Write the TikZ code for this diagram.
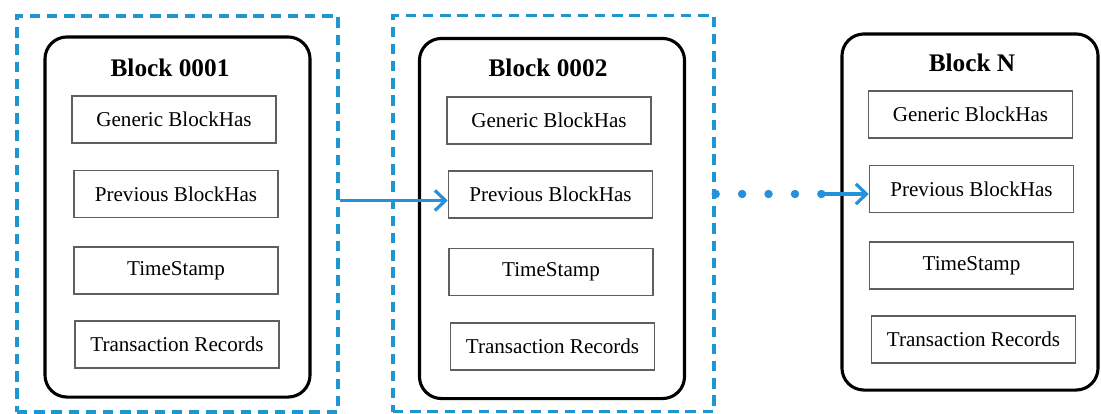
\documentclass[tikz,border=0pt]{standalone}
\usepackage{fontspec}
\setmainfont{Liberation Serif}
\usetikzlibrary{positioning,arrows.meta}
\usepackage{xcolor}
\definecolor{ChainBlue}{RGB}{30,150,210}
\definecolor{ArrowBlue}{RGB}{35,145,220}
\definecolor{FieldGray}{RGB}{95,95,95}

\begin{document}
\begin{tikzpicture}[x=0.025cm,y=-0.025cm,
wrap/.style={rectangle,draw=ChainBlue,line width=2.4pt,dash pattern=on 0.26cm off 0.17cm,
minimum width=8.025cm,minimum height=9.9cm},
block/.style={rectangle,rounded corners=0.55cm,draw=black,line width=2.2pt,fill=white,
minimum width=6.625cm,minimum height=9cm},
title/.style={font=\fontsize{18}{20}\selectfont\bfseries},
field/.style={rectangle,draw=FieldGray,line width=1.1pt,fill=white,
minimum width=5.1cm,minimum height=1.175cm,font=\fontsize{15}{17}\selectfont},
arrow/.style={-{Straight Barb[length=2.6mm,width=5mm,line width=2.3pt]},line width=2.4pt,draw=ArrowBlue},
dots/.style={draw=ArrowBlue,line width=6pt,line cap=round,dash pattern=on 0pt off 0.66cm}
]
\useasboundingbox (0,0) rectangle (1101,414);
\node[wrap] (wrap1) at (177.5,214) {};
\node[wrap] (wrap2) at (553.5,213.5) {};
% first block
\node[block] (blk1) at (177.5,217) {};
\node[title] (t1) at (170,68) {Block 0001};
\node[field] (gen1) at (174,119.5) {Generic BlockHas};
\node[field] (prev1) at (176,194) {Previous BlockHas};
\node[field] (time1) at (176,270.5) {TimeStamp};
\node[field] (rec1) at (177,344.5) {Transaction Records};
% second block
\node[block] (blk2) at (552,218.5) {};
\node[title] (t2) at (548,68) {Block 0002};
\node[field] (gen2) at (549,120.5) {Generic BlockHas};
\node[field] (prev2) at (550.5,194.5) {Previous BlockHas};
\node[field] (time2) at (551,272) {TimeStamp};
\node[field] (rec2) at (552.5,346.5) {Transaction Records};
% last block
\node[block,minimum width=6.4cm,minimum height=8.9cm] (blkN) at (970,212) {};
\node[title] (tN) at (972,63) {Block N};
\node[field] (genN) at (970.5,114.5) {Generic BlockHas};
\node[field] (prevN) at (971.5,189) {Previous BlockHas};
\node[field] (timeN) at (971.5,265.5) {TimeStamp};
\node[field] (recN) at (973.5,339.5) {Transaction Records};
\coordinate (dotend) at (823,194);
\draw[arrow] ([yshift=-0.15cm]wrap1.east |- prev2.west) -- ([yshift=-0.15cm]prev2.west);
\draw[dots] (wrap2.east |- dotend) -- ([xshift=1pt]dotend);
\draw[arrow] (dotend) -- (prevN.west |- dotend);
\end{tikzpicture}
\end{document}
